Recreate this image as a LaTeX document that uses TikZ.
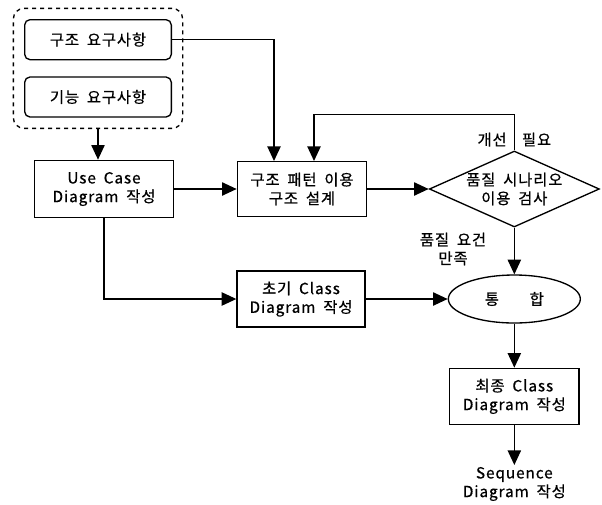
\documentclass[tikz,border=0pt]{standalone}
\usepackage{fontspec}
\setmainfont[LetterSpace=6,WordSpace=1.8,FakeBold=0.6]{Noto Sans CJK KR}
\usetikzlibrary{positioning,shapes.geometric,arrows.meta,fit}

\begin{document}
\begin{tikzpicture}[x=0.75pt, y=0.75pt, line width=1pt,
    font=\fontsize{11.5}{14}\selectfont,
    box/.style={draw, rectangle, align=center, inner sep=2pt, minimum width=97pt, minimum height=42pt},
    reqbox/.style={draw, rectangle, rounded corners=4pt, minimum width=110pt, minimum height=30pt},
    check/.style={draw, diamond, aspect=2.2, align=center, inner xsep=-10pt, inner ysep=-6pt, minimum width=127.5pt, minimum height=57pt},
    merge/.style={draw, ellipse, minimum width=99pt, minimum height=36pt},
    arrow/.style={-{Triangle[length=11pt, width=10pt]}}]
    \useasboundingbox (0,0) rectangle (602,-504);

    \node[box, minimum width=104pt, minimum height=43pt] (usecase) at (104,-189) {Use Case\\Diagram 작성};
    \node[box, minimum height=41pt, right=47pt of usecase] (design) {구조 패턴 이용\\구조 설계};
    \node[check, right=46pt of design] (check) {품질 시나리오\\이용 검사};
    \node[merge, below=35pt of check] (merge) {통\qquad 합};
    \node[box, below=33pt of merge] (final) {최종 Class\\Diagram 작성};
    \node[box, minimum width=96pt, left=61.5pt of merge] (init) {초기 Class\\Diagram 작성};
    \node[align=center, inner sep=1pt, below=30pt of final] (seq) {Sequence\\Diagram 작성};
    \node[reqbox, above=31.5pt of usecase, xshift=-4.5pt] (funcreq) {기능 요구사항};
    \node[reqbox, above=12pt of funcreq] (structreq) {구조 요구사항};
    \node[draw, dashed, rounded corners=8pt, inner sep=8pt, fit=(structreq)(funcreq)] (reqs) {};

    \node (improve) at ([yshift=8pt]check.north) {개선\quad 필요};
    \node[align=center] (satisfied) at ([xshift=-46pt, yshift=-16pt]check.south) {품질 요건\\만족};

    \draw[arrow] (reqs.south) -- (reqs.south |- usecase.north);
    \draw[arrow] (structreq.east) -| ([xshift=-21pt]design.north);
    \draw[arrow] (check.north) -- ++(0,27pt) -| ([xshift=9pt]design.north);
    \draw[arrow] (usecase) -- (design);
    \draw[arrow] (design) -- (check);
    \draw[arrow] (check) -- (merge);
    \draw[arrow] (usecase.south) |- (init);
    \draw[arrow] (init) -- (merge);
    \draw[arrow] (merge) -- (final);
    \draw[arrow] (final) -- (seq);
\end{tikzpicture}
\end{document}
